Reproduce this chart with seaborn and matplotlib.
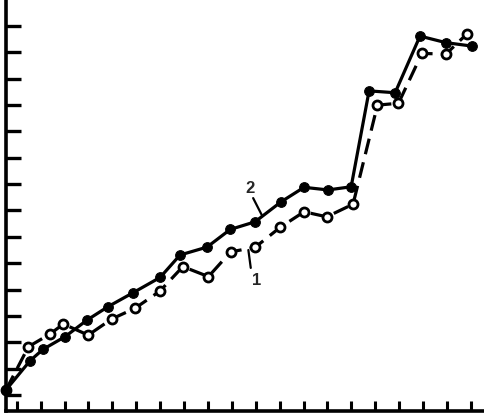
import matplotlib
matplotlib.use("Agg")
import matplotlib.pyplot as plt
import seaborn as sns
import pandas as pd

# Series 2 (solid, filled circles)
x2 = [0.55, 1.56, 2.10, 3.02, 3.94, 4.82, 5.87, 7.00, 7.83, 8.96, 9.93,
      10.97, 12.06, 13.02, 14.02, 14.99, 15.74, 16.83, 17.87, 18.96, 20.05]
y2 = [1.19, 2.30, 2.73, 3.21, 3.84, 4.35, 4.88, 5.46, 6.31, 6.61, 7.28,
      7.57, 8.33, 8.88, 8.78, 8.90, 12.54, 12.47, 14.62, 14.37, 14.24]

# Series 1 (dashed, open circles)
x1 = [0.55, 1.49, 2.39, 2.95, 3.99, 4.97, 5.95, 6.99, 7.95, 9.02, 9.95,
      10.97, 12.02, 13.02, 13.97, 15.07, 16.09, 16.97, 17.95, 18.96, 19.83]
y1 = [1.19, 2.83, 3.31, 3.69, 3.27, 3.88, 4.29, 4.94, 5.87, 5.49, 6.43,
      6.60, 7.36, 7.95, 7.76, 8.24, 12.00, 12.07, 13.96, 13.94, 14.70]

series_labels = ["1", "2"]
x_ticks = list(range(1, 21))
y_ticks = list(range(1, 16))

sns.set_style("white")
fig = plt.figure(figsize=(4.85, 4.13), dpi=100)
ax = fig.add_axes([6 / 485, 1 - 410.7 / 413, 1 - 6 / 485, 410.7 / 413])

df1 = pd.DataFrame({"x": x1, "y": y1})
df2 = pd.DataFrame({"x": x2, "y": y2})

sns.lineplot(data=df1, x="x", y="y", ax=ax, color="black", linewidth=2.3,
             marker="o", markersize=6.5, markerfacecolor="white",
             markeredgecolor="black", markeredgewidth=2.0, clip_on=False, zorder=3)
ax.lines[-1].set_dashes([5.0, 2.6])
sns.lineplot(data=df2, x="x", y="y", ax=ax, color="black", linewidth=2.3,
             marker="o", markersize=7, markerfacecolor="black",
             markeredgecolor="black", clip_on=False, zorder=4)

# Labels with leader lines
ax.text(10.76, 8.85, series_labels[1], fontsize=12, fontweight="bold",
        ha="center", va="center", family="Liberation Sans")
ax.plot([10.89, 11.25], [8.47, 7.83], color="black", linewidth=1.6)
ax.text(11.05, 5.36, series_labels[0], fontsize=12, fontweight="bold",
        ha="center", va="center", family="Liberation Sans")
ax.plot([10.69, 10.79], [6.50, 5.82], color="black", linewidth=1.6)

ax.set_xlim(0.55, 20.59)
ax.set_ylim(0.40, 15.99)
ax.set_xticks(x_ticks)
ax.set_yticks(y_ticks)
ax.set_xticklabels([])
ax.set_yticklabels([])
ax.set_xlabel("")
ax.set_ylabel("")
ax.tick_params(axis="x", direction="in", length=7, width=2.2, color="black", bottom=True)
ax.tick_params(axis="y", direction="in", length=11, width=2.4, color="black", left=True)
for s in ["top", "right"]:
    ax.spines[s].set_visible(False)
for s in ["left", "bottom"]:
    ax.spines[s].set_color("black")
    ax.spines[s].set_linewidth(2.6)
ax.set_facecolor("white")

fig.savefig("out.png", dpi=100, facecolor="white")
